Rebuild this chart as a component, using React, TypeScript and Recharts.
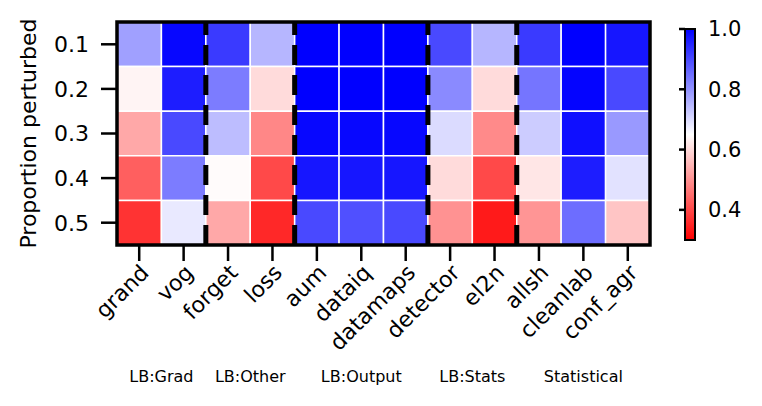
import React from "react";
import {
  ReferenceArea,
  ReferenceLine,
  Scatter,
  ScatterChart,
  XAxis,
  YAxis,
} from "recharts";

const methods = [
  "grand",
  "vog",
  "forget",
  "loss",
  "aum",
  "dataiq",
  "datamaps",
  "detector",
  "el2n",
  "allsh",
  "cleanlab",
  "conf_agr",
];

const proportions = ["0.1", "0.2", "0.3", "0.4", "0.5"];

// group name, first column, last column
const groups: [string, number, number][] = [
  ["LB:Grad", 0, 1],
  ["LB:Other", 2, 3],
  ["LB:Output", 4, 6],
  ["LB:Stats", 7, 8],
  ["Statistical", 9, 11],
];

const row01 = [0.78, 0.99, 0.92, 0.75, 1.0, 1.0, 1.0, 0.9, 0.75, 0.92, 1.0, 0.97];
const row02 = [0.635, 0.96, 0.83, 0.6, 1.0, 1.0, 1.0, 0.81, 0.6, 0.84, 0.995, 0.9];
const row03 = [0.53, 0.9, 0.74, 0.485, 0.99, 0.99, 0.99, 0.7, 0.49, 0.72, 0.98, 0.79];
const row04 = [0.43, 0.83, 0.645, 0.4, 0.97, 0.97, 0.97, 0.6, 0.4, 0.615, 0.96, 0.69];
const row05 = [0.37, 0.68, 0.53, 0.355, 0.9, 0.89, 0.9, 0.5, 0.335, 0.505, 0.85, 0.57];

const rows = [row01, row02, row03, row04, row05];

const vmin = 0.3;
const vmax = 1.0;
const cbarTicks = [0.4, 0.6, 0.8, 1.0];

// reversed bwr: red (low) -> white -> blue (high)
function bwrR(v: number) {
  let t = (v - vmin) / (vmax - vmin);
  t = Math.max(0, Math.min(1, t));
  let r: number, g: number, b: number;
  if (t < 0.5) {
    r = 1;
    g = b = 2 * t;
  } else {
    r = g = 2 * (1 - t);
    b = 1;
  }
  const h = (n: number) => Math.round(n * 255);
  return `rgb(${h(r)},${h(g)},${h(b)})`;
}

const cells = rows.flatMap((row, r) =>
  row.map((v, c) => ({ x: c, y: r + 1, v }))
);

const groupCenters = groups.map((g) => ({ x: (g[1] + g[2]) / 2, y: 3 }));

const cbarPoints = cbarTicks.map((v) => ({ x: 0.5, y: v }));

const noMark = () => <g />;

function MethodTick(props: any) {
  const { x, y, payload } = props;
  const ax = x + 11;
  const ay = y + 13;
  return (
    <text
      x={ax}
      y={ay}
      transform={`rotate(-45, ${ax}, ${ay})`}
      textAnchor="end"
      fontSize={22}
      fill="#000"
    >
      {methods[payload.value]}
    </text>
  );
}

// colorbar ticks sit on the left edge, labels on the right
function CbarTickMark(props: any) {
  const { x, y } = props;
  return <line x1={x - 6} x2={x} y1={y} y2={y} stroke="#000" strokeWidth={2.5} />;
}

function YTitle(props: any) {
  const vb = props.viewBox;
  const x = vb.x + 19;
  const y = vb.y + vb.height / 2;
  return (
    <text
      x={x}
      y={y}
      transform={`rotate(-90, ${x}, ${y})`}
      textAnchor="middle"
      fontSize={22}
      fill="#000"
    >
      Proportion perturbed
    </text>
  );
}

export default function App() {
  return (
    <div
      style={{
        position: "absolute",
        left: 0,
        top: 0,
        width: 762,
        height: 406,
        background: "#fff",
        fontFamily: "DejaVu Sans",
      }}
    >
      <div style={{ position: "absolute", left: 0, top: 0 }}>
        <ScatterChart
          width={762}
          height={406}
          margin={{ top: 22, right: 112, bottom: 10, left: 17 }}
        >
          <XAxis
            type="number"
            dataKey="x"
            domain={[-0.5, 11.5]}
            ticks={methods.map((_, i) => i)}
            interval={0}
            height={126}
            axisLine={false}
            tickLine={{ stroke: "#000", strokeWidth: 2.5 }}
            tickSize={16}
            tickMargin={0}
            tick={<MethodTick />}
          />
          <XAxis
            xAxisId="grp"
            type="number"
            dataKey="x"
            domain={[-0.5, 11.5]}
            ticks={groupCenters.map((g) => g.x)}
            interval={0}
            tickFormatter={(v: number) =>
              groups[groupCenters.findIndex((g) => g.x === v)]?.[0] ?? ""
            }
            height={25}
            axisLine={false}
            tickLine={false}
            tickSize={0}
            tickMargin={0}
            tick={{ fill: "#000", fontSize: 16 }}
          />
          <YAxis
            type="number"
            dataKey="y"
            domain={[0.5, 5.5]}
            reversed
            ticks={[1, 2, 3, 4, 5]}
            interval={0}
            tickFormatter={(v: number) => proportions[v - 1]}
            width={100}
            axisLine={false}
            tickLine={{ stroke: "#000", strokeWidth: 2.5 }}
            tickSize={16}
            tickMargin={12}
            tick={{ fill: "#000", fontSize: 22 }}
            label={<YTitle />}
          />
          {cells.map((c) => (
            <ReferenceArea
              key={`${c.x}-${c.y}`}
              x1={c.x - 0.5}
              x2={c.x + 0.5}
              y1={c.y - 0.5}
              y2={c.y + 0.5}
              fill={bwrR(c.v)}
              fillOpacity={1}
              stroke="#fff"
              strokeWidth={1.5}
            />
          ))}
          <ReferenceArea
            x1={-0.5}
            x2={11.5}
            y1={0.5}
            y2={5.5}
            fill="none"
            stroke="#000"
            strokeWidth={3.5}
            ifOverflow="visible"
          />
          {groups.slice(0, -1).map((g) => (
            <ReferenceLine
              key={g[0]}
              segment={[
                { x: g[2] + 0.5, y: 5.5 },
                { x: g[2] + 0.5, y: 0.5 },
              ]}
              stroke="#000"
              strokeWidth={5}
              strokeDasharray="20 10"
            />
          ))}
          <Scatter data={cells} isAnimationActive={false} shape={noMark} />
          <Scatter
            xAxisId="grp"
            data={groupCenters}
            isAnimationActive={false}
            shape={noMark}
          />
        </ScatterChart>
      </div>
      <div style={{ position: "absolute", left: 640, top: 0 }}>
        <ScatterChart
          width={122}
          height={260}
          margin={{ top: 29, right: 17, bottom: 20, left: 35 }}
        >
          <defs>
            <linearGradient id="cbarGrad" x1="0" y1="0" x2="0" y2="1">
              <stop offset="0%" stopColor="#0000ff" />
              <stop offset="50%" stopColor="#ffffff" />
              <stop offset="100%" stopColor="#ff0000" />
            </linearGradient>
          </defs>
          <XAxis type="number" dataKey="x" domain={[0, 1]} hide />
          <YAxis
            yAxisId="l"
            orientation="left"
            type="number"
            dataKey="y"
            domain={[vmin, vmax]}
            ticks={cbarTicks}
            width={10}
            axisLine={false}
            tickLine={false}
            tickSize={0}
            tickMargin={0}
            tick={<CbarTickMark />}
          />
          <YAxis
            yAxisId="r"
            orientation="right"
            type="number"
            dataKey="y"
            domain={[vmin, vmax]}
            ticks={cbarTicks}
            tickFormatter={(v: number) => v.toFixed(1)}
            width={50}
            axisLine={false}
            tickLine={false}
            tickSize={0}
            tickMargin={13}
            tick={{ fill: "#000", fontSize: 21, textAnchor: "start" }}
          />
          <ReferenceArea
            yAxisId="l"
            x1={0}
            x2={1}
            y1={vmin}
            y2={vmax}
            fill="url(#cbarGrad)"
            fillOpacity={1}
            stroke="#000"
            strokeWidth={2}
            ifOverflow="visible"
          />
          <Scatter
            yAxisId="l"
            data={cbarPoints}
            isAnimationActive={false}
            shape={noMark}
          />
          <Scatter
            yAxisId="r"
            data={cbarPoints}
            isAnimationActive={false}
            shape={noMark}
          />
        </ScatterChart>
      </div>
    </div>
  );
}
